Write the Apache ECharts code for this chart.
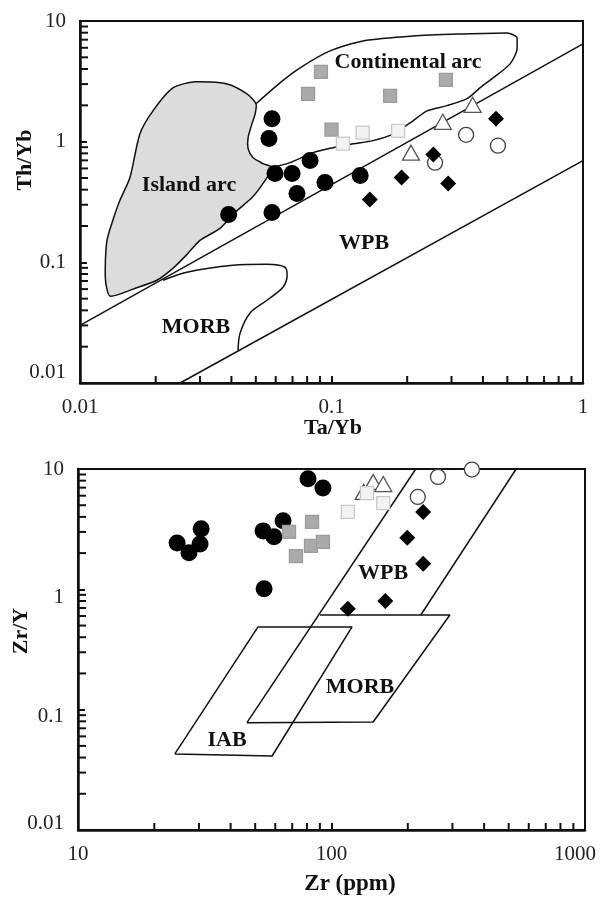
<!DOCTYPE html>
<html>
<head>
<meta charset="utf-8">
<title>Th/Yb - Ta/Yb, Zr/Y - Zr</title>
<script src="https://cdn.jsdelivr.net/npm/echarts@6/dist/echarts.min.js"></script>
<style>
  html, body { margin: 0; padding: 0; background: #fff; }
  #main { width: 601px; height: 897px; }
</style>
</head>
<body>
<div id="main"></div>
<script>
// ---- upper diagram: Ta/Yb vs Th/Yb ----
const topCircles = [[0.058, 1.55], [0.0564, 1.06], [0.0596, 0.545], [0.0697, 0.545], [0.0822, 0.697],
  [0.0729, 0.372], [0.0942, 0.458], [0.130, 0.524], [0.039, 0.249], [0.058, 0.259]];
const topDiamonds = [[0.142, 0.332], [0.19, 0.504], [0.254, 0.781], [0.291, 0.45], [0.451, 1.55]];
const topGraySq = [[0.0908, 3.79], [0.0807, 2.49], [0.171, 2.40], [0.285, 3.25], [0.100, 1.26]];
const topLightSq = [[0.111, 0.962], [0.133, 1.19], [0.184, 1.23]];
const topTriangles = [[0.207, 0.81], [0.277, 1.46], [0.364, 2.02]];
const topOpenCircles = [[0.258, 0.67], [0.343, 1.14], [0.459, 0.927]];

const topUpperLine = [[0.01, 0.030], [1, 6.46]];
const topLowerLine = [[0.025, 0.01], [1, 0.697]];
const islandArc = [[0.0286, 3.13], [0.0384, 3.01], [0.0461, 2.49], [0.0501, 2.06], [0.0497, 1.70],
  [0.0483, 1.41], [0.0466, 1.08], [0.0466, 0.875], [0.0487, 0.738], [0.0534, 0.658], [0.058, 0.610],
  [0.0544, 0.476], [0.0483, 0.344], [0.0413, 0.259], [0.036, 0.191], [0.030, 0.152], [0.0266, 0.116],
  [0.0234, 0.0892], [0.0202, 0.071], [0.0166, 0.061], [0.0132, 0.0524], [0.0127, 0.0646],
  [0.0126, 0.091], [0.0128, 0.152], [0.0135, 0.222], [0.0144, 0.325], [0.0158, 0.504],
  [0.0173, 1.16], [0.0195, 1.80], [0.0234, 2.79]];
const continentalArc = [[0.0501, 2.06], [0.0624, 3.07], [0.075, 4.09], [0.0986, 5.65], [0.1334, 6.84],
  [0.211, 7.52], [0.333, 7.81], [0.499, 7.96], [0.547, 7.24], [0.547, 5.98], [0.513, 4.41],
  [0.439, 3.38], [0.389, 2.79], [0.346, 2.27], [0.288, 1.99], [0.240, 1.80], [0.211, 1.49],
  [0.176, 1.16], [0.146, 1.02], [0.122, 0.962], [0.1014, 0.892], [0.0844, 0.811], [0.0684, 0.670],
  [0.058, 0.610]];
const topMorb = [[0.0214, 0.071], [0.0266, 0.0827], [0.0406, 0.0944], [0.0554, 0.0962], [0.0653, 0.091],
  [0.0666, 0.078], [0.0641, 0.0622], [0.0554, 0.0485], [0.0474, 0.0379], [0.0433, 0.0259],
  [0.0425, 0.0187]];

// ---- lower diagram: Zr vs Zr/Y ----
const botCircles = [[24.6, 2.43], [27.4, 2.01], [30.3, 2.38], [30.6, 3.18], [53.7, 3.06], [59.3, 2.73],
  [64.4, 3.71], [54.2, 1.01], [80.8, 8.28], [92.5, 6.96]];
const botGraySq = [[68, 3.0], [72.4, 1.89], [83.8, 3.63], [83, 2.30], [92.5, 2.48]];
const botLightSq = [[116, 4.4], [138, 6.3], [160, 5.2]];
const botTriangles = [[146, 7.8], [160, 7.5], [134, 6.45]];
const botOpenCircles = [[219, 5.86], [263, 8.6], [358, 9.9]];
const botDiamonds = [[230, 4.4], [199, 2.68], [230, 1.63], [163, 0.80], [116, 0.69]];

const wpbLeft = [[215, 10], [46.4, 0.078]];
const wpbRight = [[535, 10], [225, 0.612]];
const morbField = [[46.4, 0.078], [146, 0.079], [293, 0.612], [90.1, 0.612]];
const iabField = [[24.1, 0.0429], [58.3, 0.0412], [120.5, 0.487], [51.3, 0.487], [24.1, 0.0429]];

// minor tick positions
const minorTop = [0.02, 0.03, 0.04, 0.05, 0.06, 0.07, 0.08, 0.09, 0.2, 0.3, 0.4, 0.5, 0.6, 0.7, 0.8, 0.9];
const minorY = [0.02, 0.03, 0.04, 0.05, 0.06, 0.07, 0.08, 0.09, 0.2, 0.3, 0.4, 0.5, 0.6, 0.7, 0.8, 0.9,
  2, 3, 4, 5, 6, 7, 8, 9];
const minorZr = [20, 30, 40, 50, 60, 70, 80, 90, 200, 300, 400, 500, 600, 700, 800, 900];

const FONT = '"Liberation Serif", "Times New Roman", serif';
const INK = '#111';

const rich = {};
[['up11', [0, 0, 22, 0]], ['up7', [0, 0, 14, 0]], ['dn8', [16, 0, 0, 0]], ['dn7', [14, 0, 0, 0]],
  ['lf10', [0, 20, 0, 0]]].forEach(([k, p]) => {
  rich[k] = { padding: p, fontSize: 21, fontFamily: FONT, color: '#222' };
});

function labelFmt(shift) {
  return (v) => {
    const s = String(+(+v).toPrecision(2));
    return shift[s] ? '{' + shift[s] + '|' + s + '}' : s;
  };
}

function logAxis(grid, min, max, pos, shift) {
  return {
    type: 'log', logBase: 10, gridIndex: grid, min, max, position: pos,
    axisLine: { lineStyle: { color: INK, width: 2.5 } },
    axisTick: { inside: true, length: 7, lineStyle: { color: INK, width: 2 } },
    axisLabel: { color: '#222', fontFamily: FONT, fontSize: 21, margin: 14, formatter: labelFmt(shift || {}), rich },
    splitLine: { show: false },
  };
}

function tickSeries(idx, data, dir, len) {
  return {
    type: 'custom', xAxisIndex: idx, yAxisIndex: idx, silent: true, clip: false, z: 5,
    data,
    renderItem(params, api) {
      const p = api.coord([api.value(0), api.value(1)]);
      const shape = dir === 'x'
        ? { x1: p[0], y1: p[1], x2: p[0], y2: p[1] - len }
        : { x1: p[0], y1: p[1], x2: p[0] + len, y2: p[1] };
      return { type: 'line', shape, style: { stroke: INK, lineWidth: 2 } };
    },
  };
}

function polySeries(idx, pts, fill) {
  return {
    type: 'custom', xAxisIndex: idx, yAxisIndex: idx, silent: true, z: 1,
    data: pts,
    renderItem(params, api) {
      if (params.dataIndex !== 0) return;
      const points = pts.map((p) => api.coord(p));
      return { type: 'polygon', shape: { points, smooth: 0.25 }, style: { fill, stroke: INK, lineWidth: 1.5 } };
    },
  };
}

function lineSeries(idx, data, smooth) {
  return {
    type: 'line', xAxisIndex: idx, yAxisIndex: idx, data, smooth: smooth || false,
    symbol: 'none', silent: true, z: 2,
    lineStyle: { color: INK, width: 1.5 },
  };
}

function pts(idx, data, symbol, size, color, border) {
  return {
    type: 'scatter', xAxisIndex: idx, yAxisIndex: idx, data, symbol, symbolSize: size, clip: false, z: 4,
    itemStyle: { color, borderColor: border || color, borderWidth: border ? 1.3 : 0, opacity: 1 },
  };
}

function markers(idx, tri, open, circ, gray, light, dia) {
  return [
    pts(idx, tri, 'triangle', [17, 15], '#fff', '#555'),
    pts(idx, open, 'circle', 15, '#fff', '#444'),
    pts(idx, circ, 'circle', 17, '#000'),
    pts(idx, gray, 'rect', 13, '#aaaaaa', '#9c9c9c'),
    pts(idx, light, 'rect', 13, '#f3f3f3', '#c9c9c9'),
    pts(idx, dia, 'diamond', 16, '#000'),
  ];
}

function txt(x, y, text, size, rot) {
  return {
    type: 'text', x, y, rotation: rot || 0, z: 10,
    style: { text, font: 'bold ' + size + 'px ' + FONT, fill: INK, align: 'center', verticalAlign: 'middle' },
  };
}

const myChart = echarts.init(document.getElementById('main'));

const option = {
  animation: false,
  backgroundColor: '#fff',
  grid: [
    { left: 80, top: 21, width: 503, height: 362, show: true, borderColor: INK, borderWidth: 2 },
    { left: 78, top: 469, width: 507, height: 361, show: true, borderColor: INK, borderWidth: 2 },
  ],
  xAxis: [
    logAxis(0, 0.01, 1, 'bottom'),
    logAxis(1, 10, 1000, 'bottom', { 1000: 'lf10' }),
  ],
  yAxis: [
    logAxis(0, 0.01, 10, 'left', { 0.01: 'up11' }),
    logAxis(1, 0.01, 10, 'left', { 0.01: 'up7', 1: 'dn8', 0.1: 'dn7' }),
  ],
  graphic: [
    txt(408, 62, 'Continental arc', 22),
    txt(189, 185, 'Island arc', 22),
    txt(364, 243, 'WPB', 22),
    txt(196, 327, 'MORB', 22),
    txt(25, 160, 'Th/Yb', 22, Math.PI / 2),
    txt(333, 428, 'Ta/Yb', 22),
    txt(383, 573, 'WPB', 22),
    txt(360, 687, 'MORB', 22),
    txt(227, 740, 'IAB', 22),
    txt(21, 631, 'Zr/Y', 22, Math.PI / 2),
    txt(350, 884, 'Zr (ppm)', 23),
  ],
  series: [
    polySeries(0, islandArc, '#dcdcdc'),
    lineSeries(0, continentalArc, 0.25),
    lineSeries(0, topMorb, 0.3),
    lineSeries(0, topUpperLine),
    lineSeries(0, topLowerLine),
    ...markers(0, topTriangles, topOpenCircles, topCircles, topGraySq, topLightSq, topDiamonds),
    tickSeries(0, minorTop.map((v) => [v, 0.01]), 'x', 7),
    tickSeries(0, minorY.map((v) => [0.01, v]), 'y', 8),

    lineSeries(1, wpbLeft),
    lineSeries(1, wpbRight),
    lineSeries(1, morbField),
    lineSeries(1, iabField),
    ...markers(1, botTriangles, botOpenCircles, botCircles, botGraySq, botLightSq, botDiamonds),
    tickSeries(1, minorZr.map((v) => [v, 0.01]), 'x', 7),
    tickSeries(1, minorY.map((v) => [10, v]), 'y', 8),
  ],
};

option && myChart.setOption(option);
</script>
</body>
</html>
